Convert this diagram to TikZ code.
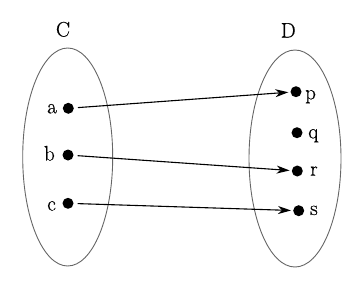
\documentclass[tikz,border=0pt]{standalone}
\usepackage{fontspec}
\newfontfamily\lblfont{Latin Modern Roman}[FakeBold=0.5]
\usetikzlibrary{arrows.meta,shapes.geometric}
\begin{document}
\begin{tikzpicture}[x=1pt,y=-1pt,
  setel/.style={draw=black!60,line width=0.9pt},
  pt/.style={circle,fill=black,inner sep=0pt,minimum size=11pt},
  lbl/.style={font=\lblfont\fontsize{21}{24}\selectfont,inner sep=0pt},
  maparrow/.style={-{Stealth[length=13pt,width=8pt,inset=4pt]},line width=1.1pt,shorten <=4pt,shorten >=2pt}]
\useasboundingbox (0,0) rectangle (355,284);
\node[setel,ellipse,draw,minimum width=90pt,minimum height=218pt,inner sep=0pt] (C) at (67.7,157) {};
\node[setel,ellipse,draw,minimum width=92pt,minimum height=217pt,inner sep=0pt] (D) at (295,158.5) {};
\node[lbl,anchor=base] (Clbl) at (63,36.5) {C};
\node[lbl,anchor=base] (Dlbl) at (288.3,37.5) {D};
\node[pt] (a) at (68.3,108.3) {};
\node[pt] (b) at (68,155) {};
\node[pt] (c) at (68,203.3) {};
\node[pt] (p) at (296,91.7) {};
\node[pt] (q) at (297,132.7) {};
\node[pt] (r) at (297.3,171) {};
\node[pt] (s) at (298.7,210.7) {};
\node[lbl,anchor=base east] (la) at (57,113.3) {a};
\node[lbl,anchor=base east] (lb) at (55,160.5) {b};
\node[lbl,anchor=base east] (lc) at (56,210.5) {c};
\node[lbl,anchor=base west] (lp) at (305,99.3) {p};
\node[lbl,anchor=base west] (lq) at (308,138.3) {q};
\node[lbl,anchor=base west] (lr) at (310,175.7) {r};
\node[lbl,anchor=base west] (ls) at (310,215) {s};
\draw[maparrow] (a) -- (p);
\draw[maparrow] (b) -- (r);
\draw[maparrow] (c) -- (s);
\end{tikzpicture}
\end{document}
